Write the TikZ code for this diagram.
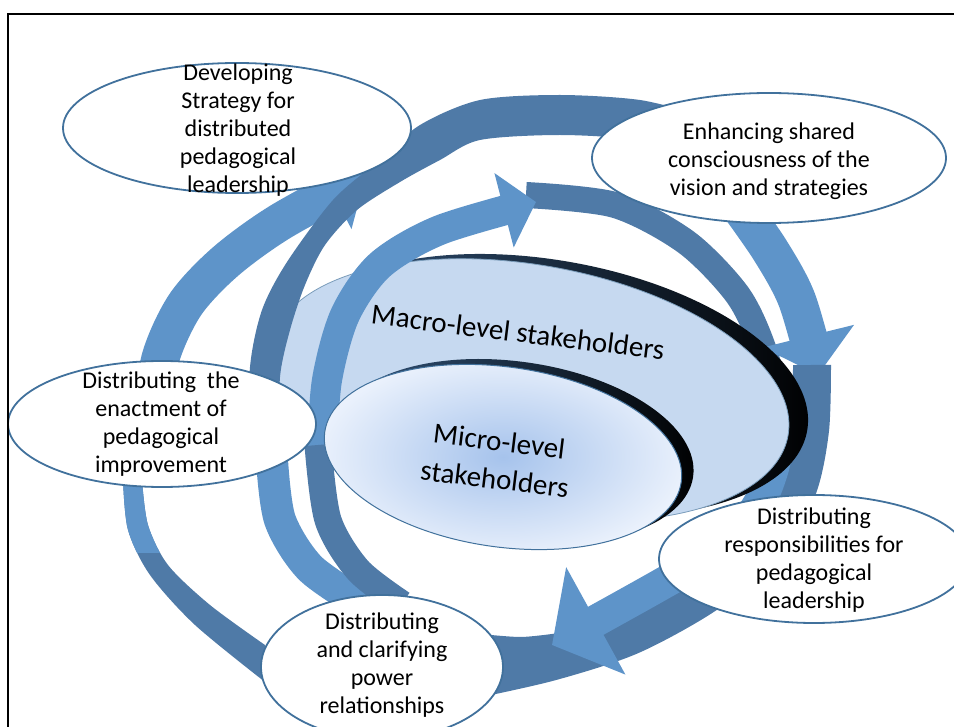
\documentclass[tikz,border=0pt]{standalone}
\usepackage{fontspec}
\setmainfont{Carlito}
\usetikzlibrary{shapes.geometric,arrows.meta}

\definecolor{lightband}{RGB}{94,148,201}
\definecolor{darkband}{RGB}{79,122,167}
\definecolor{ellline}{RGB}{65,113,156}
\definecolor{macrofill}{RGB}{198,217,240}
\definecolor{microin}{RGB}{166,195,236}
\definecolor{microout}{RGB}{234,241,252}
\definecolor{rimblue}{RGB}{52,88,128}

\tikzset{
  idea/.style={ellipse, draw=ellline, line width=1.8pt, fill=white, inner sep=0pt},
  ideatext/.style={align=center, font=\fontsize{24}{28}\selectfont},
  lightarc/.style={draw=lightband, line width=#1},
  darkarc/.style={draw=darkband, line width=#1},
}

\begin{document}
\begin{tikzpicture}[x=1pt,y=-1pt]
\useasboundingbox (0,0) rectangle (954,727);
\clip (0,0) rectangle (954,727);

% right-hand arcs, behind the macro disc
\draw[darkarc=26pt] plot[smooth] coordinates {(526,195) (615,205) (686,242) (737,294) (762,345) (778,405) (780,450)};
\draw[lightarc=38pt, -{Triangle[width=92pt,length=40pt]}] plot[smooth] coordinates {(735,200) (770,250) (797,300) (818,375)};
\draw[darkarc=38pt] plot[smooth] coordinates {(812,365) (810,430) (797,490) (762,548) (705,595) (630,636) (550,662) (470,680)};
\draw[darkarc=30pt] plot[smooth] coordinates {(560,648) (520,652) (470,648)};
\draw[lightarc=32pt, -{Triangle[width=120pt,length=50pt]}] plot[smooth] coordinates {(776,420) (775,460) (758,505) (722,548) (660,585) (552,645)};

% macro disc with its dark rim
\shade[left color=rimblue, right color=black, rotate around={-10:(530,390)}] (548,382) ellipse (262 and 125);
\filldraw[fill=macrofill, draw=ellline!70, line width=0.8pt, rotate around={-10:(530,390)}] (530,390) ellipse (262 and 125);

% left-hand arcs
\draw[lightarc=38pt, -{Triangle[width=80pt,length=38pt]}] plot[smooth] coordinates {(152,430) (160,360) (185,305) (225,262) (280,222) (366,175)};
\fill[darkband] plot[smooth] coordinates {(250,440) (250,367) (262,310) (287,262) (333,200) (377,162) (420,125) (480,100) (560,95) (640,100) (700,115)}
  -- plot[smooth] coordinates {(700,155) (640,140) (560,135) (480,140) (440,160) (400,182) (357,210) (325,245) (305,285) (290,330) (280,377) (280,440)} -- cycle;
\draw[lightarc=30pt, -{Triangle[width=75pt,length=33pt]}] plot[smooth] coordinates {(322,450) (327,380) (345,315) (380,265) (440,230) (536,202)};

% lower left arcs
\draw[lightarc=32pt] plot[smooth] coordinates {(272,460) (280,520) (310,568) (362,604)};
\draw[darkarc=27pt] plot[smooth] coordinates {(318,445) (328,520) (358,570) (402,604)};
\fill[darkband] plot[smooth] coordinates {(123,480) (128,530) (150,575) (195,625) (265,682)}
  -- plot[smooth] coordinates {(265,645) (210,605) (168,565) (148,525) (142,480)} -- cycle;
\begin{scope}
  \clip (0,470) rectangle (300,552);
  \fill[lightband] plot[smooth] coordinates {(123,480) (128,530) (150,575) (195,625) (265,682)}
    -- plot[smooth] coordinates {(265,645) (210,605) (168,565) (148,525) (142,480)} -- cycle;
\end{scope}

% micro disc
\shade[left color=rimblue, right color=black, rotate around={-8:(503,457)}] (514,450) ellipse (180 and 90);
\shadedraw[inner color=microin, outer color=microout, draw=ellline, line width=1pt, rotate around={-8:(503,457)}] (503,457) ellipse (180 and 90);

\node[rotate=-7, font=\fontsize{29}{34}\selectfont] (macrolabel) at (518,332) {Macro-level stakeholders};
\node[rotate=-7, align=center, font=\fontsize{29}{38}\selectfont] (microlabel) at (497,460) {Micro-level\\stakeholders};

% the five practices
\node[idea, minimum width=348pt, minimum height=130pt] (strategy) at (237,128) {};
\node[ideatext] at (238,130) {Developing\\Strategy for\\distributed\\pedagogical\\leadership};

\node[idea, minimum width=354pt, minimum height=130pt] (vision) at (769,158) {};
\node[ideatext] at (769,161) {Enhancing shared\\consciousness of the\\vision and strategies};

\node[idea, minimum width=310pt, minimum height=128pt] (respons) at (814,559) {};
\node[ideatext] at (814,560) {Distributing\\responsibilities for\\pedagogical\\leadership};

\node[idea, minimum width=308pt, minimum height=126pt] (enactment) at (162,424) {};
\node[ideatext] at (161,424) {Distributing\ \ the\\enactment of\\pedagogical\\improvement};

\node[idea, minimum width=242pt, minimum height=144pt] (power) at (382,667) {};
\node[ideatext] at (382,665) {Distributing\\and clarifying\\power\\relationships};

% frame
\draw[line width=2.2pt] (8,740) |- (960,14);
\end{tikzpicture}
\end{document}
